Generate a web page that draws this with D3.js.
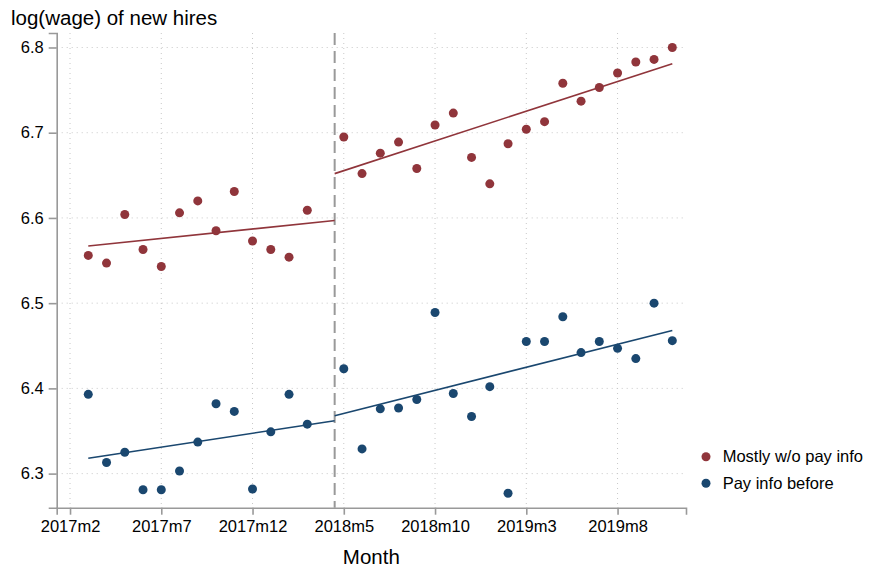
<!DOCTYPE html>
<html><head><meta charset="utf-8">
<script src="https://cdn.jsdelivr.net/npm/d3@7"></script>
<style>
html,body{margin:0;padding:0;background:#fff;}
svg{display:block;font-family:"Liberation Sans",Arial,Helvetica,sans-serif;}
</style></head>
<body><svg id="c" width="869" height="572"></svg>
<script>
// ---- data ----
const preMonths  = ["2017m3","2017m4","2017m5","2017m6","2017m7","2017m8","2017m9","2017m10","2017m11","2017m12","2018m1","2018m2","2018m3"];
const postMonths = ["2018m5","2018m6","2018m7","2018m8","2018m9","2018m10","2018m11","2018m12","2019m1","2019m2","2019m3","2019m4","2019m5","2019m6","2019m7","2019m8","2019m9","2019m10","2019m11"];
const redPre   = [6.556,6.547,6.604,6.563,6.543,6.606,6.620,6.585,6.631,6.573,6.563,6.554,6.609];
const redPost  = [6.695,6.652,6.676,6.689,6.658,6.709,6.723,6.671,6.640,6.687,6.704,6.713,6.758,6.737,6.753,6.770,6.783,6.786,6.800];
const bluePre  = [6.393,6.313,6.325,6.281,6.281,6.303,6.337,6.382,6.373,6.282,6.349,6.393,6.358];
const bluePost = [6.423,6.329,6.376,6.377,6.387,6.489,6.394,6.367,6.402,6.277,6.455,6.455,6.484,6.442,6.455,6.447,6.435,6.500,6.456];
const redFitPre   = [6.567,6.597];
const redFitPost  = [6.652,6.781];
const blueFitPre  = [6.318,6.362];
const blueFitPost = [6.368,6.468];
const xTickLabels = ["2017m2","2017m7","2017m12","2018m5","2018m10","2019m3","2019m8"];
const yTicks = [6.3,6.4,6.5,6.6,6.7,6.8];
const seriesNames = ["Mostly w/o pay info","Pay info before"];
const colors = ["#90353b","#1a476f"];

// month string -> index (0 = 2017m2)
function mIdx(s){const [yy,mm]=s.split("m");return (+yy-2017)*12+(+mm)-2;}

const svg = d3.select("#c");
const x = d3.scaleLinear().domain([-0.73,33.75]).range([56.7,686]);
const y = d3.scaleLinear().domain([6.26,6.817]).range([507.7,33]);
const plotTop = y.range()[1], plotBottom = y.range()[0];

// gridlines
const grid = svg.append("g");
xTickLabels.forEach(t=>{
  grid.append("line").attr("x1",x(mIdx(t))).attr("x2",x(mIdx(t))).attr("y1",plotTop).attr("y2",plotBottom)
   .attr("stroke","#c8c8c8").attr("stroke-width",1).attr("stroke-dasharray","1,4");
});
yTicks.forEach(t=>{
  grid.append("line").attr("x1",x.range()[0]).attr("x2",x.range()[1]).attr("y1",y(t)).attr("y2",y(t))
   .attr("stroke","#c8c8c8").attr("stroke-width",1).attr("stroke-dasharray","1,4");
});

// axes
const xAxis = d3.axisBottom(x).tickValues(xTickLabels.map(mIdx)).tickFormat((d,i)=>xTickLabels[i]).tickSizeOuter(0).tickSize(7).tickPadding(6);
const gx = svg.append("g").attr("transform",`translate(0,${plotBottom})`).call(xAxis);
const yAxis = d3.axisLeft(y).tickValues(yTicks).tickFormat(d3.format(".1f")).tickSizeOuter(0).tickSize(8).tickPadding(5);
const gy = svg.append("g").attr("transform",`translate(${x.range()[0]},0)`).call(yAxis);
[gx,gy].forEach(g=>{
  g.select(".domain").attr("stroke","#999").attr("stroke-width",1.6);
  g.selectAll(".tick line").attr("stroke","#999").attr("stroke-width",1.6);
  g.selectAll(".tick text").attr("font-size","16.5px").attr("fill","#000").attr("font-family","Liberation Sans, Arial, sans-serif");
});

// cutoff dashed line
const cut = mIdx("2018m4")+0.5;
svg.append("line").attr("x1",x(cut)).attr("x2",x(cut))
  .attr("y1",plotTop).attr("y2",plotBottom).attr("stroke","#999").attr("stroke-width",2).attr("stroke-dasharray","12,6");

// fit lines
const fits = [
  [redFitPre, preMonths[0], null, colors[0]],
  [redFitPost, null, postMonths[postMonths.length-1], colors[0]],
  [blueFitPre, preMonths[0], null, colors[1]],
  [blueFitPost, null, postMonths[postMonths.length-1], colors[1]]
];
fits.forEach(([v,s,e,c])=>{
  const x0 = s ? mIdx(s) : cut, x1 = e ? mIdx(e) : cut;
  svg.append("line").attr("x1",x(x0)).attr("x2",x(x1)).attr("y1",y(v[0])).attr("y2",y(v[1]))
    .attr("stroke",c).attr("stroke-width",1.6);
});

// points
function dots(months, vals, c){
  svg.append("g").selectAll("circle").data(months.map((m,i)=>[mIdx(m),vals[i]])).join("circle")
    .attr("cx",d=>x(d[0])).attr("cy",d=>y(d[1])).attr("r",4.5).attr("fill",c);
}
dots(preMonths,redPre,colors[0]);
dots(postMonths,redPost,colors[0]);
dots(preMonths,bluePre,colors[1]);
dots(postMonths,bluePost,colors[1]);

// titles
svg.append("text").attr("x",11).attr("y",25).attr("font-size","20.5px").text("log(wage) of new hires");
svg.append("text").attr("x",(x.range()[0]+x.range()[1])/2).attr("y",564).attr("text-anchor","middle").attr("font-size","20.5px").text("Month");

// legend
seriesNames.forEach((n,i)=>{
  const ly = 456.7 + i*26.6;
  svg.append("circle").attr("cx",706).attr("cy",ly).attr("r",4.5).attr("fill",colors[i]);
  svg.append("text").attr("x",722.7).attr("y",ly).attr("dy","0.35em").attr("font-size","16.5px").text(n);
});
</script></body></html>
